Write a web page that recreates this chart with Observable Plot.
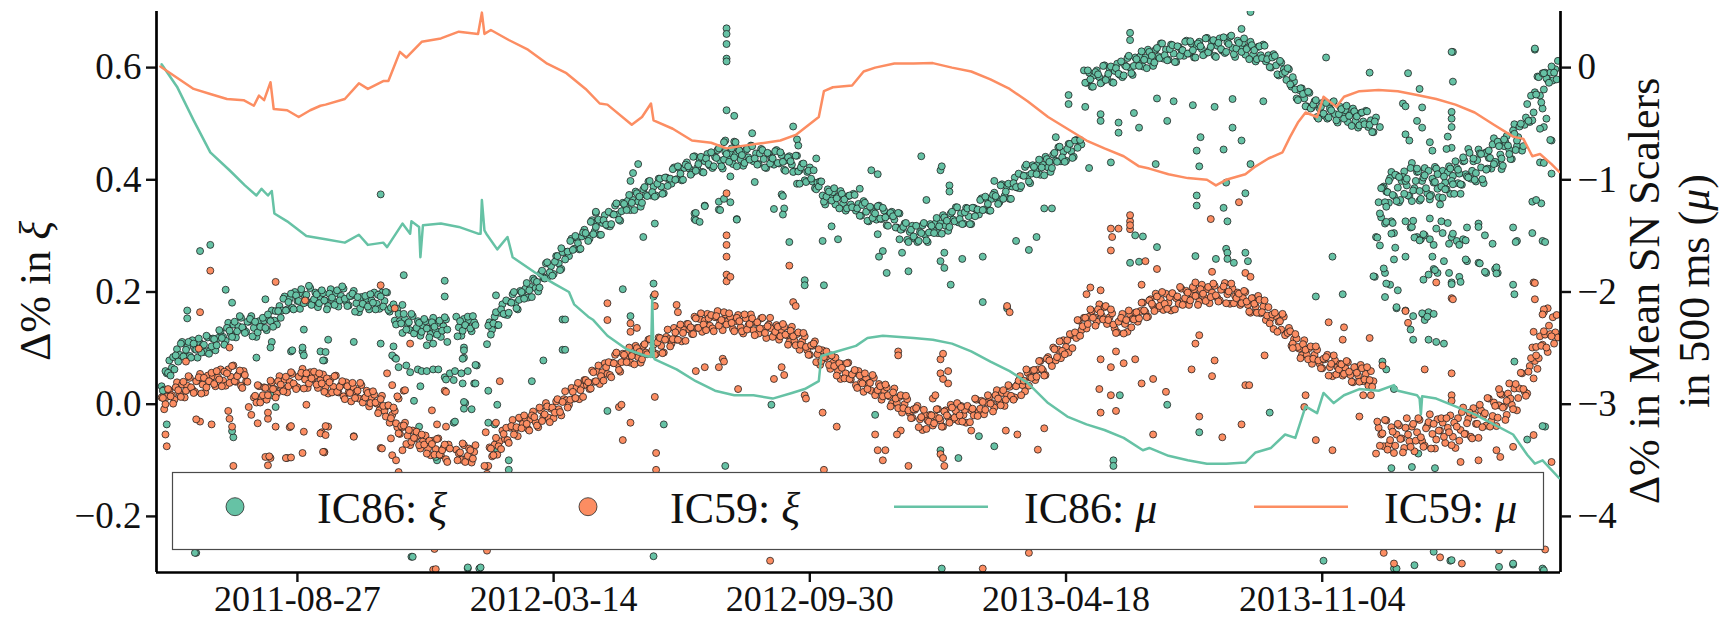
<!DOCTYPE html>
<html><head><meta charset="utf-8">
<script src="https://cdn.jsdelivr.net/npm/d3@7"></script>
<script src="https://cdn.jsdelivr.net/npm/@observablehq/plot@0.6"></script>
<style>
html,body{margin:0;padding:0;background:#fff;}
#chart{position:relative;width:1730px;height:619px;}
#chart svg{position:absolute;left:0;top:0;}
</style></head><body><div id="chart"></div>
<script>
// ---------------- data (days counted from BASE_DATE) ----------------
const BASE_DATE = "2011-05-09";
const X_RANGE_DAYS = [0, 1096];
const xTickLabels = ["2011-08-27", "2012-03-14", "2012-09-30", "2013-04-18", "2013-11-04"];
const leftTicks = [-0.2, 0, 0.2, 0.4, 0.6];
const rightTicks = [-4, -3, -2, -1, 0];
const leftDomain = [-0.3, 0.7];
const rightDomain = [-4.5, 0.5];
const seriesNames = ["IC86: ", "IC59: ", "IC86: ", "IC59: "];
const seriesSymbols = ["ξ", "ξ", "μ", "μ"];

const evenDays = [
4,6,8,10,12,14,16,18,20,22,24,26,28,30,32,34,36,38,40,42,
44,46,48,50,52,54,56,58,60,62,64,66,68,70,72,74,76,78,80,82,
84,86,88,90,92,94,96,98,100,102,104,106,108,110,112,114,116,118,120,122,
124,126,128,130,132,134,136,138,140,142,144,146,148,150,152,154,156,158,160,162,
164,166,168,170,172,174,176,178,180,182,184,186,188,190,192,194,196,198,200,202,
204,206,208,210,212,214,216,218,220,222,224,226,228,230,232,234,236,238,240,242,
244,246,248,250,252,254,256,258,260,262,264,266,268,270,272,274,276,278,280,282,
284,286,288,290,292,294,296,298,300,302,304,306,308,310,312,314,316,318,320,322,
324,326,328,330,332,334,336,338,340,342,344,346,348,350,352,354,356,358,360,362,
364,366,368,370,372,374,376,378,380,382,384,386,388,390,392,394,396,398,400,402,
404,406,408,410,412,414,416,418,420,422,424,426,428,430,432,434,436,438,440,442,
444,446,448,450,452,454,456,458,460,462,464,466,468,470,472,474,476,478,480,482,
484,486,488,490,492,494,496,498,500,502,504,506,508,510,512,514,516,518,520,522,
524,526,528,530,532,534,536,538,540,542,544,546,548,550,552,554,556,558,560,562,
564,566,568,570,572,574,576,578,580,582,584,586,588,590,592,594,596,598,600,602,
604,606,608,610,612,614,616,618,620,622,624,626,628,630,632,634,636,638,640,642,
644,646,648,650,652,654,656,658,660,662,664,666,668,670,672,674,676,678,680,682,
684,686,688,690,692,694,696,698,700,702,704,706,708,710,712,714,716,718,720,722,
724,726,728,730,732,734,736,738,740,742,744,746,748,750,752,754,756,758,760,762,
764,766,768,770,772,774,776,778,780,782,784,786,788,790,792,794,796,798,800,802,
804,806,808,810,812,814,816,818,820,822,824,826,828,830,832,834,836,838,840,842,
844,846,848,850,852,854,856,858,860,862,864,866,868,870,872,874,876,878,880,882,
884,886,888,890,892,894,896,898,900,902,904,906,908,910,912,914,916,918,920,922,
924,926,928,930,932,934,936,938,940,942,944,946,948,950,952,954,956,958,960,962,
964,966,968,970,972,974,976,978,980,982,984,986,988,990,992,994,996,998,1000,1002,
1004,1006,1008,1010,1012,1014,1016,1018,1020,1022,1024,1026,1028,1030,1032,1034,1036,1038,1040,1042,
1044,1046,1048,1050,1052,1054,1056,1058,1060,1062,1064,1066,1068,1070,1072,1074,1076,1078,1080,1082,
1084,1086,1088,1090,1092,1094];

const oddDays = [
5,7,9,11,13,15,17,19,21,23,25,27,29,31,33,35,37,39,41,43,
45,47,49,51,53,55,57,59,61,63,65,67,69,71,73,75,77,79,81,83,
85,87,89,91,93,95,97,99,101,103,105,107,109,111,113,115,117,119,121,123,
125,127,129,131,133,135,137,139,141,143,145,147,149,151,153,155,157,159,161,163,
165,167,169,171,173,175,177,179,181,183,185,187,189,191,193,195,197,199,201,203,
205,207,209,211,213,215,217,219,221,223,225,227,229,231,233,235,237,239,241,243,
245,247,249,251,253,255,257,259,261,263,265,267,269,271,273,275,277,279,281,283,
285,287,289,291,293,295,297,299,301,303,305,307,309,311,313,315,317,319,321,323,
325,327,329,331,333,335,337,339,341,343,345,347,349,351,353,355,357,359,361,363,
365,367,369,371,373,375,377,379,381,383,385,387,389,391,393,395,397,399,401,403,
405,407,409,411,413,415,417,419,421,423,425,427,429,431,433,435,437,439,441,443,
445,447,449,451,453,455,457,459,461,463,465,467,469,471,473,475,477,479,481,483,
485,487,489,491,493,495,497,499,501,503,505,507,509,511,513,515,517,519,521,523,
525,527,529,531,533,535,537,539,541,543,545,547,549,551,553,555,557,559,561,563,
565,567,569,571,573,575,577,579,581,583,585,587,589,591,593,595,597,599,601,603,
605,607,609,611,613,615,617,619,621,623,625,627,629,631,633,635,637,639,641,643,
645,647,649,651,653,655,657,659,661,663,665,667,669,671,673,675,677,679,681,683,
685,687,689,691,693,695,697,699,701,703,705,707,709,711,713,715,717,719,721,723,
725,727,729,731,733,735,737,739,741,743,745,747,749,751,753,755,757,759,761,763,
765,767,769,771,773,775,777,779,781,783,785,787,789,791,793,795,797,799,801,803,
805,807,809,811,813,815,817,819,821,823,825,827,829,831,833,835,837,839,841,843,
845,847,849,851,853,855,857,859,861,863,865,867,869,871,873,875,877,879,881,883,
885,887,889,891,893,895,897,899,901,903,905,907,909,911,913,915,917,919,921,923,
925,927,929,931,933,935,937,939,941,943,945,947,949,951,953,955,957,959,961,963,
965,967,969,971,973,975,977,979,981,983,985,987,989,991,993,995,997,999,1001,1003,
1005,1007,1009,1011,1013,1015,1017,1019,1021,1023,1025,1027,1029,1031,1033,1035,1037,1039,1041,1043,
1045,1047,1049,1051,1053,1055,1057,1059,1061,1063,1065,1067,1069,1071,1073,1075,1077,1079,1081,1083,
1085,1087,1089,1091,1093];

// IC86: ξ on even days (null = no data)
const ic86XiEven = [
.032,.026,.055,.078,.065,.062,.098,.088,.111,.086,.102,.086,.114,.098,.083,.109,.104,.093,.119,.097,
.117,.096,.118,.129,.120,.113,.145,.125,.142,.119,.139,.154,.134,.129,.147,.157,.136,.120,.148,.138,
.149,.132,.151,.167,.149,.142,.175,.167,.192,.169,.188,.172,.200,.184,.170,.197,.192,.182,.207,.183,
.199,.173,.191,.198,.184,.175,.205,.183,.198,.174,.193,.206,.183,.176,.193,.202,.180,.164,.191,.178,
.188,.169,.185,.199,.179,.170,.199,.184,.199,.165,.173,.149,.170,.148,.127,.152,.144,.132,.157,.132,
.148,.122,.140,.148,.135,.125,.154,.131,.145,.120,.139,.151,null,null,null,.156,.137,.122,.152,.141,
.150,.130,.146,null,null,null,null,.107,.146,.133,.156,.141,.163,.178,.160,.159,.182,.196,.180,.169,
.202,.194,.206,.190,.209,.224,.207,.201,.233,.225,.251,.228,.246,.232,.264,.251,.241,.272,.271,.264,
.295,.277,.297,.276,.299,.311,.301,.295,.328,.308,.325,.302,.323,.337,.318,.317,.339,.354,.338,.327,
.359,.352,.363,.346,.364,.379,.361,.352,.383,.373,.397,.372,.388,.372,.402,.388,.376,.404,.401,.393,
.422,.401,.421,.399,.421,.431,.420,.412,.442,.421,.437,.414,.433,.446,.425,.421,.441,.453,.434,.420,
.450,.439,.448,.428,.444,.456,.436,.425,.453,.440,.461,.433,.447,.428,.455,.437,.421,.446,.439,.427,
.453,.429,.444,.418,.435,.442,.427,.415,.443,.417,.428,.399,.414,.422,.397,.385,.395,.397,.372,.356,
.383,.371,.378,.356,.370,.380,.358,.345,.371,.356,.375,.345,.357,.336,.362,.343,.326,.350,.342,.329,
.354,.330,.345,.319,.337,.343,.329,.315,.340,.312,.322,.293,.307,.318,.295,.289,.307,.319,.302,.289,
.321,.312,.322,.305,.322,.337,.318,.309,.340,.329,.351,.324,.340,.322,.350,.335,.321,.350,.347,.338,
.367,.347,.367,.345,.366,.377,.367,.360,.392,.371,.388,.366,.388,.404,.386,.385,.408,.423,.407,.394,
.426,.417,.427,.409,.427,.441,.422,.414,.445,.434,.458,.433,.450,.434,.464,.451,.441,.471,.470,.463,
.595,.573,.591,.566,.586,.595,.583,.574,.604,.582,.598,.574,.594,.607,.587,.583,.604,.617,.600,.587,
.618,.609,.620,.602,.618,.632,.612,.603,.632,.620,.643,.616,.632,.614,.641,.625,.610,.637,.632,.621,
.648,.625,.643,.618,.638,.646,.633,.624,.653,.631,.645,.621,.639,.652,.630,.626,.645,.655,.635,.619,
.648,.636,.644,.623,.636,.646,.623,.611,.637,.622,.641,.611,.622,.600,.624,.604,.586,.609,.597,.578,
.597,.566,.575,.545,.560,.563,.545,.531,.555,.529,.540,.512,.527,.537,.514,.509,.527,.538,.517,.502,
.530,.518,.524,.503,.517,.527,.505,.493,.519,.504,.523,.494,.506,.485,.511,.360,.333,.388,.379,.359,
.414,.371,.408,.360,.398,.415,.390,.371,.430,.385,.414,.363,.398,.421,.376,.365,.402,.423,.384,.356,
.416,.395,.413,.375,.407,.433,.394,.375,.433,.410,.455,.402,.433,.397,.454,.422,.394,.449,.439,.420,
.474,.430,.467,.419,.460,.478,.454,.437,.499,.460,.495,.452,.498,.535,.503,.506,.556,.584,.550,.527,
.591,.578,.591,.577,.597,.612];

// IC86: ξ on odd days
const ic86XiOdd = [
.024,.059,.056,.051,.084,.087,.076,.108,.085,.097,.111,.083,.108,.097,.117,.092,.106,.122,.090,.103,
.116,.105,.132,.118,.106,.136,.131,.120,.147,.130,.157,.137,.127,.147,.152,.121,.147,.128,.138,.154,
.136,.160,.148,.138,.166,.166,.154,.188,.167,.182,.197,.169,.194,.184,.205,.180,.195,.211,.177,.187,
.196,.180,.203,.185,.169,.197,.190,.177,.203,.185,.210,.188,.175,.193,.197,.165,.191,.171,.179,.193,
.174,.196,.181,.169,.195,.192,.174,.200,.168,.172,.178,.142,.161,.144,.161,.133,.146,.161,.126,.136,
.145,.129,.152,.135,.119,.146,.138,.124,.149,.131,.155,.133,null,null,null,.121,.148,.131,.141,.156,
.135,.157,.141,null,null,null,null,.140,.124,.144,.164,.141,.169,.161,.185,.163,.181,.200,.171,.186,
.200,.188,.216,.203,.191,.221,.218,.208,.238,.224,.253,.235,.229,.254,.264,.239,.271,.258,.272,.291,
.275,.300,.287,.277,.306,.305,.291,.325,.303,.316,.329,.302,.328,.320,.343,.321,.338,.358,.329,.344,
.357,.346,.373,.359,.346,.376,.370,.359,.387,.371,.398,.378,.370,.393,.402,.375,.404,.389,.402,.419,
.400,.424,.411,.400,.427,.424,.409,.441,.416,.428,.441,.413,.438,.428,.449,.424,.439,.456,.424,.436,
.446,.432,.456,.440,.424,.452,.444,.430,.455,.436,.460,.438,.427,.447,.453,.422,.448,.429,.438,.451,
.430,.449,.432,.416,.440,.433,.414,.443,.415,.422,.429,.396,.416,.402,.417,.383,.388,.397,.361,.370,
.379,.363,.385,.367,.349,.375,.365,.349,.372,.351,.373,.349,.336,.355,.359,.327,.352,.332,.340,.353,
.331,.350,.333,.318,.341,.335,.315,.341,.311,.316,.323,.289,.311,.299,.318,.291,.305,.323,.292,.306,
.318,.305,.332,.317,.304,.333,.327,.316,.343,.326,.351,.330,.321,.342,.349,.321,.350,.335,.347,.364,
.346,.370,.357,.345,.373,.371,.357,.390,.366,.379,.393,.366,.394,.387,.411,.389,.407,.427,.397,.411,
.423,.410,.436,.422,.408,.437,.432,.421,.448,.432,.459,.440,.432,.455,.464,.439,.470,.457,.471,null,
.573,.595,.579,.566,.592,.588,.572,.603,.578,.589,.602,.573,.599,.589,.611,.586,.602,.621,.590,.603,
.615,.603,.629,.614,.599,.628,.621,.609,.635,.617,.643,.622,.613,.633,.640,.610,.638,.621,.631,.646,
.625,.647,.631,.618,.643,.638,.622,.652,.627,.637,.649,.619,.644,.633,.654,.628,.642,.657,.624,.634,
.644,.628,.652,.633,.615,.640,.631,.615,.638,.617,.639,.615,.601,.618,.621,.588,.612,.589,.592,.599,
.570,.583,.561,.542,.563,.553,.531,.557,.527,.534,.542,.509,.530,.518,.537,.511,.524,.540,.506,.517,
.526,.509,.532,.514,.496,.522,.513,.497,.520,.499,.522,.498,.485,.504,null,.340,.386,.360,.378,.403,
.373,.409,.386,.364,.405,.398,.372,.421,.381,.398,.415,.366,.404,.385,.416,.373,.395,.420,.369,.388,
.406,.383,.424,.398,.375,.421,.411,.391,.434,.406,.448,.416,.400,.435,.447,.401,.447,.420,.439,.463,
.432,.468,.445,.425,.467,.461,.437,.488,.453,.476,.500,.460,.511,.505,.550,.520,.552,.583,.538,.561,
.581,.573,.602,.591,.579];

// IC59: ξ on even days
const ic59XiEven = [
.012,-.009,.013,.025,.016,.008,.039,.019,.035,.012,.033,.047,.026,.022,.042,.054,.035,.021,.051,.041,
.050,.032,.048,.062,.042,.033,.062,.049,.069,.040,.053,.033,.059,.041,null,null,.012,.003,.032,.011,
.030,.008,.029,.039,.027,.019,.050,.029,.044,.021,.040,.054,.033,.030,.050,.063,.044,.029,.057,.045,
.051,.029,.043,.053,.031,.019,.045,.031,.051,.021,.034,.014,.039,.021,.005,.029,.022,.010,.034,.010,
.024,-.004,.012,.017,.001,-.011,.015,-.012,-.003,-.033,-.019,-.012,-.041,-.053,-.041,-.033,-.056,-.073,-.047,-.061,
-.056,-.079,-.066,-.056,-.079,-.091,-.065,-.080,-.061,-.091,-.078,-.098,-.072,null,null,-.081,-.088,-.099,-.073,-.096,
-.079,-.104,-.085,null,null,null,null,-.111,-.077,-.093,-.072,-.090,-.066,-.047,-.062,-.064,-.042,-.028,-.045,-.057,
-.026,-.035,-.025,-.044,-.027,-.013,-.032,-.041,-.011,-.022,.002,-.024,-.008,-.025,.005,-.009,-.020,.009,.007,-.001,
.029,.010,.030,.009,.032,.043,.034,.027,.060,.040,.058,.036,.057,.073,.054,.052,.074,.088,.071,.058,
.090,.082,.092,.074,.090,.104,.084,.074,.104,.092,.115,.090,.106,.090,.119,.104,.092,.120,.116,.108,
.136,.115,.134,.112,.133,.143,.133,.125,.156,.136,.152,.129,.149,.161,.140,.135,.155,.166,.147,.132,
.160,.148,.155,.134,.148,.159,.137,.126,.153,.140,.160,.132,.145,.126,.153,.134,.118,.142,.135,.123,
.141,.115,.132,.138,.123,.111,.138,.113,.125,.097,.112,.121,.096,.088,.104,.112,.089,.070,.096,.082,
.086,.063,.074,.083,.059,.045,.071,.055,.074,.044,.055,.034,.059,.039,.022,.046,.037,.024,.047,.022,
.036,.008,.024,.030,.014,.001,.028,.002,.013,-.015,.000,.009,-.016,-.024,-.010,-.003,-.027,-.046,-.019,-.029,
-.019,-.038,-.022,-.009,-.029,-.040,-.011,-.023,-.001,-.027,-.012,-.030,-.003,-.019,-.033,-.006,-.011,-.020,.008,-.013,
.006,-.018,.003,.013,.002,-.006,.025,.004,.020,-.003,.017,.031,.013,.012,.035,.050,.034,.023,.056,.048,
.060,.043,.062,.077,.060,.052,.084,.076,.101,.078,.097,.082,.114,.102,.092,.123,.123,.118,.149,.132,
.154,.135,.156,.166,.155,.147,.178,.157,.173,.143,.155,.162,.135,.128,.148,.161,.143,.129,.160,.152,
.163,.147,.166,.181,.164,.156,.187,.175,.197,.171,.186,.168,.197,.181,.167,.194,.189,.179,.206,.184,
.202,.177,.197,.205,.193,.183,.213,.190,.205,.180,.199,.211,.190,.185,.205,.216,.196,.179,.206,.193,
.199,.177,.190,.200,.177,.163,.189,.174,.193,.162,.174,.150,.173,.153,.134,.157,.147,.133,.156,.126,
.136,.104,.116,.117,.099,.087,.114,.088,.100,.072,.088,.097,.072,.064,.080,.088,.066,.050,.078,.066,
.072,.051,.064,.075,.052,.039,.066,.051,.070,.041,.054,.033,.059,.041,-.088,-.042,-.054,-.075,-.029,-.072,
-.041,-.087,-.054,-.038,-.061,-.078,-.025,-.066,-.040,-.084,-.050,-.028,-.066,-.074,-.039,-.018,-.053,-.079,-.027,-.047,
-.033,-.069,-.042,-.020,-.058,-.078,-.025,-.046,-.006,-.053,-.026,-.058,-.007,-.035,-.060,-.011,-.020,-.038,.010,-.030,
.003,-.039,-.002,.017,-.004,-.019,.037,-.001,.028,-.011,.028,.055,.022,.019,.068,.101,.077,.063,.121,.106,
.124,.093,.125,.155,.128,.119];

// IC59: ξ on odd days
const ic59XiOdd = [
.011,.000,.027,.014,.001,.030,.025,.013,.040,.024,.050,.030,.020,.041,.048,.019,.047,.030,.041,.056,
.036,.059,.044,.032,.058,.055,.038,.068,.041,.050,.060,.029,.052,.040,null,null,.015,.034,.003,.016,
.029,.016,.042,.027,.012,.041,.035,.023,.049,.032,.057,.037,.027,.049,.056,.028,.055,.037,.046,.058,
.035,.055,.037,.022,.046,.039,.021,.050,.022,.031,.041,.009,.032,.020,.038,.011,.024,.038,.003,.012,
.020,.002,.023,.003,-.016,.009,-.003,-.022,-.002,-.025,-.006,-.034,-.052,-.039,-.038,-.071,-.046,-.067,-.060,-.049,
-.073,-.054,-.072,-.088,-.065,-.071,-.090,-.062,-.090,-.082,-.072,-.103,-.079,null,null,-.100,-.086,-.070,-.103,-.092,
-.082,-.097,-.073,null,null,null,null,-.110,-.079,-.091,-.060,-.075,-.080,-.053,-.042,-.069,-.039,-.054,-.041,-.024,
-.043,-.020,-.035,-.047,-.020,-.023,-.038,-.006,-.030,-.018,-.004,-.032,-.006,-.015,.009,-.014,.004,.023,-.006,.008,
.022,.011,.038,.025,.013,.043,.039,.028,.057,.041,.069,.050,.042,.066,.075,.048,.073,.092,.061,.075,
.088,.075,.101,.086,.071,.100,.093,.080,.107,.089,.116,.096,.088,.110,.118,.091,.115,.133,.103,.116,
.128,.115,.142,.127,.113,.143,.137,.125,.153,.136,.162,.142,.132,.153,.159,.130,.157,.140,.150,.164,
.142,.162,.145,.130,.154,.148,.130,.160,.133,.143,.153,.123,.146,.135,.154,.127,.139,.154,.120,.129,
.138,.121,.143,.124,.106,.131,.121,.105,.128,.106,.127,.102,.088,.105,.108,.075,.098,.077,.084,.094,
.070,.087,.068,.051,.073,.065,.046,.073,.045,.053,.061,.029,.051,.037,.055,.027,.038,.052,.016,.025,
.032,.014,.035,.016,-.004,.021,.010,-.007,.016,-.007,.015,-.011,-.025,-.009,-.007,-.041,-.023,-.010,-.044,-.031,
-.020,-.034,-.009,-.025,-.040,-.013,-.020,-.033,-.006,-.024,.002,-.020,-.031,-.010,-.003,-.032,-.008,.010,-.021,-.008,
.004,-.010,.016,.001,-.013,.016,.010,-.002,.025,.008,.034,.015,.008,.032,.042,.016,.042,.062,.033,.047,
.061,.049,.077,.063,.051,.081,.078,.068,.098,.084,.112,.095,.089,.114,.125,.100,.128,.150,.122,.139,
.154,.143,.169,.154,.140,.169,.163,.151,.175,.150,.169,.142,.127,.147,.154,.126,.150,.167,.137,.151,
.164,.153,.181,.167,.155,.185,.179,.166,.192,.175,.200,.179,.170,.191,.198,.169,.192,.209,.177,.189,
.199,.185,.209,.193,.177,.205,.197,.184,.209,.191,.215,.194,.183,.204,.210,.180,.201,.215,.180,.189,
.197,.180,.202,.183,.165,.189,.179,.163,.186,.164,.185,.158,.144,.160,.163,.129,.148,.161,.123,.127,
.130,.108,.125,.102,.082,.107,.097,.080,.103,.081,.103,.078,.064,.081,.084,.051,.072,.087,.053,.062,
.071,.054,.077,.058,.040,.066,.056,.040,.064,.044,.066,.043,.031,null,-.031,-.074,-.052,-.028,-.081,-.064,
-.049,-.074,-.035,-.062,-.086,-.042,-.054,-.076,-.035,-.065,-.025,-.059,-.076,-.043,-.032,-.079,-.035,-.063,-.047,-.025,
-.058,-.025,-.050,-.073,-.033,-.040,-.065,-.014,-.053,-.034,-.015,-.061,-.019,-.035,-.001,-.041,-.016,.011,-.040,-.021,
-.003,-.024,.019,-.006,-.028,.019,.010,-.009,.036,.011,.056,.027,.015,.058,.082,.046,.102,.082,.104,.130,
.101,.140,.121,.108,.159];

// isolated IC86 ξ points [day, value]
const ic86XiOther = [
[175,.374],[34,.273],[42,.284],[54,.204],[59,.181],[24,.167],[24,.153],[85,.187],[193,.230],[225,.220],
[225,.192],[265,.194],[192,.177],[154,.111],[134,.115],[115,.133],[90,.111],[89,.101],[78,.083],[105,.094],
[114,.094],[128,.094],[131,.078],[175,.108],[186,.083],[189,.066],[195,.069],[198,.057],[204,.062],[207,.059],
[211,.059],[216,.062],[220,.062],[225,.048],[229,.055],[233,.059],[238,.055],[243,.059],[240,.083],[240,.101],
[250,.069],[259,.024],[266,-.001],[259,-.033],[264,-.036],[241,.002],[248,.037],[232,-.033],[205,-.040],[201,.006],
[275,-.100],[275,-.117],[266,-.082],[219,-.100],[199,-.272],[243,-.293],[252,-.293],[31,-.265],[8,-.036],[60,-.059],
[59,-.048],[93,-.005],[90,.016],[317,.097],[317,.151],[302,.078],[293,.041],[316,.278],[343,.341],
[106,.096],[114,.101],[115,.087],[132,.093],[130,.078],[185,.103],[184,.087],[187,.081],[226,.044],[232,.043],
[239,.037],[249,.037],[240,.096],[239,.081],[249,.070],[206,.032],[233,-.031],[240,.004],[240,-.008],[246,-.009],
[211,.105],[216,.108],[227,.111],[218,-.094],
[445,.670],[445,.660],[445,.642],[445,.616],[445,.611],[445,.524],[451,.514],[444,.470],[451,.468],[376,.428],
[372,.412],[370,.398],[343,.343],[319,.151],[319,.097],[364,.205],[370,.157],[388,.215],[388,.192],[380,.298],
[389,.322],[420,.340],[420,.330],[428,.354],[439,.347],[439,.361],[453,.330],[482,.348],[490,.349],[489,.338],
[488,.374],[494,.289],[497,.495],[500,.472],[506,.221],[506,.212],[521,.212],[520,.291],[532,.294],[558,.417],
[563,.410],[549,.384],[563,.303],[567,.273],[564,.263],[570,.234],[587,.237],[580,.294],[582,.270],[597,.442],
[612,.417],[613,.424],[619,.390],[619,.379],[601,.364],[612,.255],[615,.243],[620,.213],[615,.270],[629,.259],
[645,.263],[654,.398],[671,.291],[681,.275],[687,.298],[693,.349],[699,.349],[702,.476],[712,.551],[712,.535],
[725,.530],[728,.421],[737,.517],[737,.505],[751,.502],[751,.484],[760,.662],[760,.649],[763,.519],[745,.431],
[764,.301],[645,.182],[664,.171],[747,-.100],[747,-.110],[654,-.075],[612,-.082],[626,-.096],[642,-.057],[561,-.019],
[396,-.036],[352,-.012],[444,-.110],[388,-.271],[613,-.293],[480,-.001],[752,.016],
[465,.483],[501,.461],[443,.467],[452,.467],[448,.406],[467,.396],[443,.366],[448,.360],[440,.346],[428,.353],
[421,.341],[421,.328],[424,.325],[453,.329],[489,.371],[500,.393],[502,.393],[527,.317],[515,.438],
[854,.699],[847,.669],[913,.618],[947,.591],[977,.590],[1012,.628],[1012,.575],[1076,.632],[1082,.590],[781,.545],
[794,.540],[809,.533],[826,.530],[840,.544],[864,.540],[767,.493],[789,.505],[815,.476],[840,.493],[847,.470],
[833,.454],[812,.452],[780,.428],[814,.424],[854,.428],[835,.395],[812,.372],[812,.354],[850,.376],[833,.350],
[836,.326],[770,.299],[781,.280],[811,.264],[827,.259],[835,.277],[836,.270],[836,.259],[760,.252],[767,.254],
[850,.270],[852,.255],[841,.252],[918,.263],[905,.192],[926,.196],[789,-.001],[814,-.050],[869,-.015],[911,-.279],
[966,-.293],[1059,-.286],[1082,-.293],[1010,-.279],[1060,.076],[1084,-.040],
[952,.298],[959,.322],[964,.326],[966,.305],[951,.227],[959,.234],[963,.213],[975,.326],[979,.315],[984,.298],
[987,.294],[990,.301],[994,.294],[997,.284],[996,.263],[997,.241],[993,.231],[975,.263],[969,.203],[968,.171],
[975,.167],[981,.157],[979,.133],[989,.160],[991,.157],[1004,.305],[1011,.298],[1015,.291],[1020,.294],[1023,.315],
[1005,.255],[1009,.234],[1017,.227],[1011,.217],[1000,.234],[1023,.255],[1032,.252],[1038,.234],[1045,.241],[1047,.234],
[1062,.291],[1059,.315],[1074,.305],[1074,.361],[1081,.358],[1059,.213],[1060,.196],[1082,.291],[1089,.470],[1085,.509],
[1080,.431],[1077,.364],[993,.164],[997,.161],[990,.150],[981,.115],[993,.115],[999,.111],[1005,.108],[957,.076],
[960,.062],[966,.027],[960,.325],[965,.323],[953,.297],[955,.283],[964,.304],[967,.279],[966,.258],[958,.242],
[950,.228],[960,.215],[959,.191],[968,.173],[980,.316],[981,.327],[982,.297],[986,.292],[989,.303],[994,.331],
[999,.313],[1003,.326],[1008,.323],[998,.239],[989,.222],[1011,.214],[1018,.218],[1009,.286],[1017,.284],[1022,.292],
[1022,.258],[1012,.304],[1033,.251],[1037,.236],[1046,.244],[1046,.233],[1032,.322],[1032,.316],[1037,.301],[1043,.286],
[1061,.289],[1084,.289],[988,.162],[992,.156],
[964,-.114],[980,-.112],[985,-.088],[998,-.114],[1082,-.039],[1070,-.063],[1011,-.278],[982,-.287],[997,-.263],[1059,-.284],
[1048,-.290],[968,-.293],[1083,-.296],
[1076,.634],[1011,.628],[986,.562],[1083,.590],[973,.536],[975,.531],[988,.529],[984,.505],[988,.493],[1011,.521],
[1011,.509],[1011,.494],[1011,.457],[1008,.477],[1007,.455],[975,.481],[978,.470],[994,.467],[996,.452],[955,.494],
[1088,.471],[1083,.430],[1089,.411],[1083,.494],[1080,.491],[200,-.272],[243,-.291],[253,-.291],[30,-.265],
[956,.385],[960,.352],[962,.398],[968,.362],[970,.405],[974,.375],[976,.402],[980,.362],[984,.420],[986,.380],
[990,.408],[994,.371],[998,.396],[1000,.410],[1004,.368],[1006,.383],[1010,.420],[1012,.392],[1016,.418],[1018,.392],
[1020,.440],[1024,.404],[1028,.438],[1030,.412],[1034,.446],[1038,.418],[1040,.452],[1044,.428],[1048,.460],[1050,.438],
[1052,.472],[1056,.446],[1060,.482],[1062,.470]];

// isolated IC59 ξ points [day, value]
const ic59XiOther = [
[42,.238],[93,.218],[175,.212],[116,.185],[34,.164],[186,.171],[198,.108],[33,.099],[23,.076],[57,.101],
[180,.055],[184,.034],[193,.024],[189,.010],[225,.024],[268,.041],[226,-.040],[257,-.050],[265,-.033],[183,-.061],
[192,-.082],[175,-.078],[154,-.057],[134,-.040],[117,-.001],[129,-.050],[131,-.085],[114,-.087],[102,-.096],[89,-.096],
[87,-.109],[93,-.040],[87,-.026],[104,-.041],[79,-.034],[87,-.015],[59,-.040],[57,-.026],[56,-.012],[60,-.110],
[43,-.036],[34,-.031],[31,-.027],[7,-.054],[8,-.075],[72,-.005],[74,-.019],[219,-.036],[256,-.110],[258,-.124],
[189,-.121],[216,-.295],[217,-.258],[258,-.261],[85,-.094],[88,-.093],[101,-.096],[131,-.086],[176,-.079],[218,-.294],
[194,.025],[188,.014],[226,.022],[215,-.011],[105,-.039],[115,-.049],[132,-.039],[128,-.052],[132,-.055],[154,-.058],
[105,-.095],[130,-.085],[184,-.091],[187,-.100],
[445,.376],[445,.301],[445,.284],[445,.263],[445,.231],[445,.219],[448,.227],[494,.247],[497,.182],[499,.175],
[352,.180],[352,.150],[370,.144],[375,.136],[370,.129],[389,.196],[389,.175],[406,.177],[407,.164],[421,.059],
[428,.066],[439,.066],[442,.081],[443,.076],[488,.066],[490,.052],[482,.045],[454,.027],[506,.016],[507,.010],
[520,-.015],[531,-.040],[361,-.005],[363,-.001],[370,-.033],[364,-.064],[390,-.087],[390,-.117],[389,.013],[579,.094],
[579,.087],[612,.080],[614,.090],[612,.055],[614,.045],[618,.059],[618,.037],[606,.010],[608,.016],[628,-.005],
[563,-.082],[569,-.082],[567,-.100],[587,-.110],[561,-.054],[581,-.047],[578,-.054],[612,-.089],[614,-.096],[615,-.110],
[636,-.047],[663,-.047],[672,-.054],[688,-.081],[693,-.043],[664,.175],[666,.164],[726,.196],[729,.208],[737,.203],
[745,.313],[746,.298],[751,.313],[745,.274],[760,.326],[760,.312],[737,.080],[745,.066],[749,.094],[755,.073],
[736,.027],[737,-.015],[745,.016],[749,-.012],[764,.080],[769,.037],[681,-.265],[479,-.279],[645,-.293],[521,-.117],
[760,.337],[760,.319],[772,.255],[781,.241],[769,.213],[823,.330],[845,.360],[811,.217],[824,.236],[850,.234],
[854,.227],[778,.045],[788,.022],[778,-.054],[814,.123],[811,.108],[808,.062],[826,.078],[824,.050],[850,.034],
[853,.034],[847,-.036],[832,-.059],[814,-.022],[865,.087],[887,.100],[915,.146],[927,.137],[926,.115],[947,.118],
[897,.016],[896,-.005],[905,-.064],[918,-.082],[939,-.022],[942,.016],[948,.016],[957,.069],[990,.062],[1011,.055],
[1011,.016],[1011,.006],[1054,.006],[1048,.027],[1075,.129],[1077,.087],[1083,.164],[1086,.171],[1075,.217],[999,.217],
[1011,.189],[1089,-.103],[1032,-.100],[1012,.187],[1076,.216],[1076,.187],[1083,.169],[1082,.160],[975,.166],[977,.145],
[1046,-.082],[1049,-.094],[1059,-.076],[1075,-.055],[1019,-.284],[1002,-.273],[966,-.284],[958,-.265],[1048,-.260],[1084,-.259],
[1018,-.103]];

// IC86: μ  (Δ% in mean SN scalers, right axis)
const ic86MuDays = [4,16,29,42,57,69,78,82,87,90,92,102,117,132,147,158,165,177,180,192,198,199,205,206,208,222,236,251,253,254,256,258,266,274,276,278,296,311,322,326,337,341,352,367,382,386,387,388,389,406,421,436,451,466,481,496,506,517,519,531,546,555,567,591,606,621,636,651,666,680,696,711,726,740,755,770,775,790,805,820,835,850,858,870,881,889,897,906,911,919,927,939,954,966,969,984,986,987,988,999,1014,1029,1044,1059,1070,1076,1082,1095];
const ic86MuVals = [.03,-.17,-.47,-.755,-.915,-1.05,-1.14,-1.08,-1.14,-1.10,-1.30,-1.37,-1.50,-1.53,-1.56,-1.49,-1.58,-1.56,-1.60,-1.39,-1.48,-1.37,-1.42,-1.69,-1.405,-1.39,-1.42,-1.48,-1.48,-1.18,-1.45,-1.49,-1.62,-1.51,-1.60,-1.69,-1.83,-1.93,-2.00,-2.11,-2.22,-2.25,-2.39,-2.51,-2.57,-2.58,-2.06,-2.58,-2.60,-2.69,-2.795,-2.88,-2.92,-2.92,-2.95,-2.90,-2.865,-2.795,-2.57,-2.53,-2.48,-2.41,-2.39,-2.41,-2.425,-2.46,-2.53,-2.62,-2.705,-2.81,-2.99,-3.11,-3.18,-3.23,-3.30,-3.41,-3.39,-3.46,-3.50,-3.53,-3.53,-3.52,-3.43,-3.39,-3.27,-3.30,-3.02,-3.08,-2.90,-2.99,-2.92,-2.865,-2.88,-2.83,-2.88,-2.92,-2.95,-3.09,-2.93,-2.95,-3.02,-3.09,-3.18,-3.27,-3.45,-3.53,-3.50,-3.66];
// IC59: μ
const ic59MuDays = [3,16,29,42,55,68,76,80,84,89,91.5,102,111,120,128,132,147,158,165,177,181,190,195,207,222,236,251,254,256,261,275,290,305,320,335,346,352,371,379,386,388,403,418,433,445,456,472,487,499,507,517,521,528,543,552,561,576,591,606,621,636,651,666,680,696,711,726,740,755,767,775,790,805,820,827,835,850,858,868,879,885,891,897,906,911,921,927,939,954,969,984,999,1014,1029,1044,1059,1067,1074,1080,1089,1095];
const ic59MuVals = [.01,-.09,-.19,-.235,-.28,-.29,-.34,-.25,-.29,-.13,-.37,-.38,-.44,-.38,-.34,-.33,-.28,-.14,-.19,-.12,-.12,.14,.09,.23,.26,.32,.30,.49,.30,.335,.246,.16,.035,-.05,-.19,-.32,-.33,-.51,-.44,-.32,-.47,-.545,-.65,-.67,-.72,-.70,-.675,-.65,-.60,-.53,-.44,-.21,-.175,-.16,-.035,0,.037,.037,.04,0,-.035,-.105,-.19,-.30,-.44,-.545,-.65,-.72,-.79,-.88,-.90,-.95,-.985,-1.0,-1.05,-1.0,-.95,-.88,-.81,-.755,-.615,-.49,-.40,-.44,-.26,-.35,-.26,-.21,-.20,-.21,-.245,-.28,-.33,-.40,-.51,-.615,-.635,-.79,-.77,-.86,-.93];

// ---------------- drawing ----------------
const GREEN = "#66c2a5", ORANGE = "#fc8d62";
const FONT = "'Liberation Serif', 'DejaVu Serif', serif";
const base = Date.parse(BASE_DATE + "T00:00:00Z");
const toDate = d => new Date(base + d * 864e5);
const xDomain = X_RANGE_DAYS.map(toDate);
const xTicks = xTickLabels.map(s => new Date(s + "T00:00:00Z"));

function rows(days, vals) {
  return days.map((d, i) => ({date: toDate(d), v: vals[i]})).filter(r => r.v != null);
}
const ic86Xi = rows(evenDays, ic86XiEven).concat(rows(oddDays, ic86XiOdd),
  ic86XiOther.map(([d, v]) => ({date: toDate(d), v})));
const ic59Xi = rows(evenDays, ic59XiEven).concat(rows(oddDays, ic59XiOdd),
  ic59XiOther.map(([d, v]) => ({date: toDate(d), v})));
const ic86Mu = ic86MuDays.map((d, i) => ({date: toDate(d), mu: ic86MuVals[i]}));
const ic59Mu = ic59MuDays.map((d, i) => ({date: toDate(d), mu: ic59MuVals[i]}));

const MINUS = "\u2212";
const fmtLeft = v => (v < 0 ? MINUS : "") + Math.abs(v).toFixed(1);
const fmtRight = v => (v < 0 ? MINUS : "") + Math.abs(v).toFixed(0);
const fmtDate = d3.utcFormat("%Y-%m-%d");

const common = {
  width: 1730, height: 619,
  marginTop: 11, marginRight: 170, marginBottom: 47, marginLeft: 156,
  style: {fontFamily: FONT, fontSize: "37px", background: "transparent", color: "#111", overflow: "visible"}
};

const dotStyle = {x: "date", y: "v", r: 3.5, stroke: "#1a1a1a", strokeWidth: 0.75, clip: true};

const p1 = Plot.plot({
  ...common,
  x: {type: "utc", domain: xDomain, axis: null},
  y: {domain: leftDomain, axis: null},
  marks: [
    Plot.dot(ic86Xi, {...dotStyle, fill: GREEN}),
    Plot.dot(ic59Xi, {...dotStyle, fill: ORANGE}),
    Plot.axisY({ticks: leftTicks, tickSize: 10, tickPadding: 5, tickFormat: fmtLeft, strokeWidth: 2.4, label: null}),
    Plot.axisX({ticks: xTicks, tickSize: 10, tickPadding: 3, tickFormat: fmtDate, strokeWidth: 2.4, fontSize: 36, label: null}),
    Plot.ruleY([leftDomain[0]], {stroke: "#000", strokeWidth: 2.7}),
    Plot.ruleX(xDomain, {stroke: "#000", strokeWidth: 2.7})
  ]
});

const p2 = Plot.plot({
  ...common,
  x: {type: "utc", domain: xDomain, axis: null},
  y: {domain: rightDomain, axis: null},
  marks: [
    Plot.line(ic86Mu, {x: "date", y: "mu", stroke: GREEN, strokeWidth: 2.5, clip: true}),
    Plot.line(ic59Mu, {x: "date", y: "mu", stroke: ORANGE, strokeWidth: 2.5, clip: true}),
    Plot.axisY({anchor: "right", ticks: rightTicks, tickSize: 10, tickPadding: 7, tickFormat: fmtRight, strokeWidth: 2.4, label: null})
  ]
});

const chart = document.getElementById("chart");
chart.appendChild(p1);
chart.appendChild(p2);

// titles and legend on the top layer
const svg = d3.select(p2);
function mathText(g, plain, sym, size, anchor) {
  const t = g.append("text").attr("font-family", FONT).attr("font-size", size).attr("fill", "#111")
    .attr("text-anchor", anchor);
  t.append("tspan").text(plain);
  t.append("tspan").attr("font-style", "italic").text(sym);
  return t;
}
mathText(svg.append("g").attr("transform", "translate(50,291) rotate(-90)"), "Δ% in ", "ξ", 44, "middle");
svg.append("text").attr("transform", "translate(1659,291) rotate(-90)").attr("text-anchor", "middle")
  .attr("font-family", FONT).attr("font-size", 44).attr("fill", "#111").text("Δ% in Mean SN Scalers");
const t2 = svg.append("text").attr("transform", "translate(1709,291) rotate(-90)").attr("text-anchor", "middle")
  .attr("font-family", FONT).attr("font-size", 44).attr("fill", "#111");
t2.append("tspan").text("in 500\u2009ms (");
t2.append("tspan").attr("font-style", "italic").text("μ");
t2.append("tspan").text(")");

const lg = svg.append("g");
lg.append("rect").attr("x", 172.5).attr("y", 472.5).attr("width", 1371).attr("height", 77)
  .attr("fill", "#fff").attr("stroke", "#4a4a4a").attr("stroke-width", 1.2);
const legendColors = [GREEN, ORANGE, GREEN, ORANGE];
const handleX = [187, 540, 894, 1254];
handleX.forEach((hx, i) => {
  if (i < 2) {
    lg.append("circle").attr("cx", hx + 48).attr("cy", 506.7).attr("r", 9)
      .attr("fill", legendColors[i]).attr("stroke", "#2a2a2a").attr("stroke-width", 0.8);
  } else {
    lg.append("line").attr("x1", hx).attr("x2", hx + 94).attr("y1", 506.7).attr("y2", 506.7)
      .attr("stroke", legendColors[i]).attr("stroke-width", 2.5);
  }
  mathText(lg.append("g").attr("transform", `translate(${hx + 130},523)`), seriesNames[i], seriesSymbols[i], 44, "start");
});
</script></body></html>
